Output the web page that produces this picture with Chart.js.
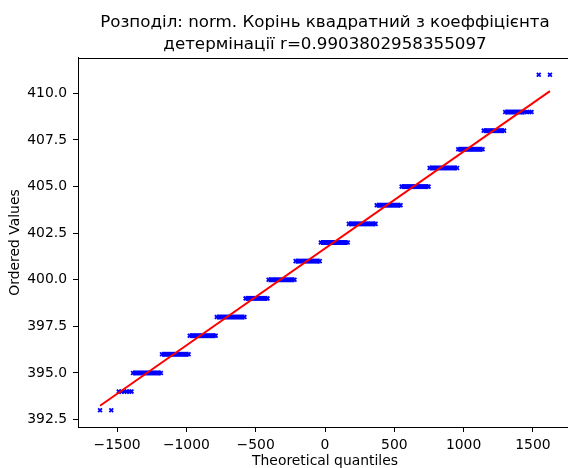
<!DOCTYPE html>
<html>
<head>
<meta charset="utf-8">
<script src="https://cdn.jsdelivr.net/npm/chart.js@4/dist/chart.umd.min.js"></script>
<style>
  html, body { margin: 0; padding: 0; overflow: hidden; background: #fff; }
  #wrap { width: 580px; height: 468px; }
</style>
</head>
<body>
<div id="wrap"><canvas id="qq"></canvas></div>
<script>
// Q-Q plot of ordered values against theoretical normal quantiles.
const titleLines = [
  'Розподіл: norm. Корінь квадратний з коеффіцієнта',
  'детермінації r=0.9903802958355097'
];

// Runs of equal ordered values: level and the quantile span each run covers.
const runLevels = [395, 396, 397, 398, 399, 400, 401, 402, 403, 404, 405, 406, 407, 408, 409];
const runStart  = [-1385, -1176, -976, -781, -573, -407, -212, -30, 172, 373, 553, 755, 961, 1145, 1300];
const runEnd    = [-1184, -984, -789, -581, -415, -220, -38, 164, 365, 545, 747, 953, 1137, 1292, 1440];

// Individual observations in the sparse tails.
const tailX = [-1623, -1542, -1488, -1468, -1448, -1430, -1412, -1396, 1458, 1474, 1490, 1542, 1623];
const tailY = [393, 393, 394, 394, 394, 394, 394, 394, 409, 409, 409, 411, 411];

// Least-squares fit line end points.
const fitX = [-1623, 1623];
const fitY = [393.24, 410.12];

const xTicks = [-1500, -1000, -500, 0, 500, 1000, 1500];
const yTicks = [392.5, 395.0, 397.5, 400.0, 402.5, 405.0, 407.5, 410.0];

const BLUE = '#0000ff';
const RED = '#ff0000';
const FONT = 'DejaVu Sans';

const marker = {
  pointStyle: 'crossRot',
  pointRadius: 2.7,
  pointBorderWidth: 1.8,
  pointBorderColor: BLUE,
  pointBackgroundColor: BLUE
};

const datasets = [];
datasets.push({
  type: 'line',
  label: 'fit',
  data: fitX.map((x, i) => ({ x, y: fitY[i] })),
  borderColor: RED,
  borderWidth: 2,
  pointRadius: 0,
  fill: false,
  order: 0
});
runLevels.forEach((lv, i) => {
  datasets.push(Object.assign({
    type: 'line',
    label: 'run ' + lv,
    data: [{ x: runStart[i], y: lv }, { x: runEnd[i], y: lv }],
    borderColor: BLUE,
    backgroundColor: BLUE,
    borderWidth: 5,
    borderCapStyle: 'butt',
    fill: false,
    order: 1
  }, marker));
});
datasets.push(Object.assign({
  type: 'scatter',
  label: 'tail',
  data: tailX.map((x, i) => ({ x, y: tailY[i] })),
  showLine: false,
  order: 1
}, marker));

const frame = {
  id: 'frame',
  afterDraw(chart) {
    const { ctx, chartArea: a } = chart;
    ctx.save();
    ctx.strokeStyle = '#000';
    ctx.lineWidth = 1;
    ctx.strokeRect(Math.round(a.left) + 0.5, Math.round(a.top) + 0.5,
                   Math.round(a.right - a.left), Math.round(a.bottom - a.top));
    ctx.restore();
  }
};

const minus = s => String(s).replace('-', '\u2212');

new Chart(document.getElementById('qq'), {
  type: 'line',
  data: { datasets },
  plugins: [frame],
  options: {
    responsive: true,
    maintainAspectRatio: false,
    animation: false,
    events: [],
    layout: { padding: { left: 0, right: 8, top: 0, bottom: 0 } },
    plugins: {
      legend: { display: false },
      tooltip: { enabled: false },
      title: {
        display: true,
        text: titleLines,
        fullSize: false,
        color: '#000',
        font: { family: FONT, size: 16.7, weight: 'normal', lineHeight: 1.29 },
        padding: { top: 12, bottom: 2.9 }
      }
    },
    scales: {
      x: {
        type: 'linear',
        position: 'bottom',
        min: -1782,
        max: 1782,
        afterBuildTicks: s => { s.ticks = xTicks.map(v => ({ value: v })); },
        afterFit: s => { s.height = 41; },
        border: { display: true, color: '#000', width: 1 },
        grid: { display: true, drawOnChartArea: false, drawTicks: true, tickLength: 5, tickColor: '#000', tickWidth: 1 },
        ticks: {
          color: '#000',
          padding: 5,
          maxRotation: 0,
          font: { family: FONT, size: 13.9 },
          callback: v => minus(v)
        },
        title: {
          display: true,
          text: 'Theoretical quantiles',
          color: '#000',
          font: { family: FONT, size: 13.9, lineHeight: 1 },
          padding: { top: 0, bottom: 0 }
        }
      },
      y: {
        type: 'linear',
        min: 392.1,
        max: 411.9,
        afterBuildTicks: s => { s.ticks = yTicks.map(v => ({ value: v })); },
        afterFit: s => { s.width = 78; },
        border: { display: true, color: '#000', width: 1 },
        grid: { display: true, drawOnChartArea: false, drawTicks: true, tickLength: 5, tickColor: '#000', tickWidth: 1 },
        ticks: {
          color: '#000',
          padding: 6,
          font: { family: FONT, size: 13.9 },
          callback: v => Number(v).toFixed(1)
        },
        title: {
          display: true,
          text: 'Ordered Values',
          color: '#000',
          font: { family: FONT, size: 13.9, lineHeight: 1 },
          padding: { top: 8, bottom: 0 }
        }
      }
    }
  }
});
</script>
</body>
</html>
